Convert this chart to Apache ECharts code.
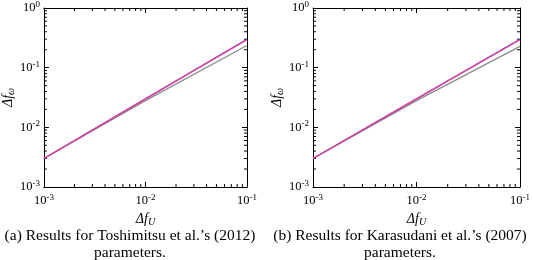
<!DOCTYPE html>
<html><head><meta charset="utf-8">
<script src="https://cdn.jsdelivr.net/npm/echarts@6/dist/echarts.min.js"></script>
<style>html,body{margin:0;padding:0;background:#fff}#c{width:533px;height:260px}</style>
</head><body><div id="c"></div><script>
// ---- data ----
const xRange=[0.001,0.1];
const yRange=[0.001,1];
const xTickExp=['-3','-2','-1'];
const yTickExp=['-3','-2','-1','0'];
const xVals=[0.001,0.01,0.1];
// (a) Toshimitsu et al. (2012)
const aBlue=[0.0030,0.030,0.300];
const aPink=[0.0030,0.030,0.293];
const aGray=[0.0030,0.028,0.235];
// (b) Karasudani et al. (2007)
const bBlue=[0.0030,0.030,0.300];
const bPink=[0.0030,0.030,0.293];
const bGray=[0.0030,0.028,0.228];
const captions=[["(a) Results for Toshimitsu et al.\u2019s (2012)","parameters."],["(b) Results for Karasudani et al.\u2019s (2007)","parameters."]];
const xName='\u0394f';const xSub='U';
const yName='\u0394f';const ySub='\u03c9';

const SERIF="'Liberation Serif','DejaVu Serif',serif";
const chart=echarts.init(document.getElementById('c'),null,{renderer:'canvas'});
const grids=[{left:41,top:8,width:206,height:179},{left:313,top:8,width:207,height:179}];
const rich={b:{fontSize:12.5,fontFamily:SERIF,color:'#000'},s:{fontSize:9,fontFamily:SERIF,color:'#000',padding:[0,0,7,0]},
 i:{fontSize:14,fontFamily:SERIF,fontStyle:'italic',color:'#000'},sub:{fontSize:10,fontFamily:SERIF,fontStyle:'italic',color:'#000',padding:[6,0,0,0]}};
function fmt(exps){return function(v){const e=Math.round(Math.log10(v));return '{b|10}{s|'+e+'}';};}
const lineStyle={color:'#000',width:1};
const xAxis=[],yAxis=[],series=[];
const minorX=[],minorY=[];
for(let d=-3;d<-1;d++)for(let k=2;k<=9;k++)minorX.push(k*Math.pow(10,d));
for(let d=-3;d<0;d++)for(let k=2;k<=9;k++)minorY.push(k*Math.pow(10,d));
const sets=[[aGray,aBlue,aPink],[bGray,bBlue,bPink]];
grids.forEach((g,gi)=>{
 xAxis.push({type:'log',logBase:10,gridIndex:gi,min:xRange[0],max:xRange[1],position:'bottom',
  axisLine:{show:true,lineStyle},axisTick:{inside:true,length:5,lineStyle},splitLine:{show:false},
  axisLabel:{formatter:fmt(xTickExp),rich,margin:6},
  name:'{i|'+xName+'}{sub|'+xSub+'}',nameLocation:'middle',nameGap:24,nameTextStyle:{rich}});
 xAxis.push({type:'log',logBase:10,gridIndex:gi,min:xRange[0],max:xRange[1],position:'top',
  axisLine:{show:true,lineStyle},axisTick:{inside:true,length:5,lineStyle},splitLine:{show:false},axisLabel:{show:false}});
 yAxis.push({type:'log',logBase:10,gridIndex:gi,min:yRange[0],max:yRange[1],position:'left',
  axisLine:{show:true,lineStyle},axisTick:{inside:true,length:5,lineStyle},splitLine:{show:false},
  axisLabel:{formatter:fmt(yTickExp),rich,margin:4},
  name:'{i|'+yName+'}{sub|'+ySub+'}',nameLocation:'middle',nameGap:27,nameRotate:90,nameTextStyle:{rich}});
 yAxis.push({type:'log',logBase:10,gridIndex:gi,min:yRange[0],max:yRange[1],position:'right',
  axisLine:{show:true,lineStyle},axisTick:{inside:true,length:5,lineStyle},splitLine:{show:false},axisLabel:{show:false}});
 const cols=['#8c8c8c','#3535cc','#ee4499'];
 sets[gi].forEach((arr,si)=>{
  series.push({type:'line',xAxisIndex:gi*2,yAxisIndex:gi*2,data:xVals.map((x,i)=>[x,arr[i]]),
   showSymbol:false,symbol:'none',lineStyle:{color:cols[si],width:1.3},z:3+si,animation:false});
 });
 const md=[];
 minorX.forEach(v=>md.push([v,yRange[0],0]));
 minorY.forEach(v=>md.push([xRange[0],v,1]));
 series.push({type:'custom',xAxisIndex:gi*2,yAxisIndex:gi*2,data:md,animation:false,silent:true,clip:false,
  renderItem:function(params,api){
   const v0=api.value(0),v1=api.value(1),o=api.value(2);
   let a,b;
   if(o===0){a=api.coord([v0,yRange[0]]);b=api.coord([v0,yRange[1]]);
    return {type:'group',children:[
     {type:'line',shape:{x1:a[0],y1:a[1],x2:a[0],y2:a[1]-3},style:{stroke:'#000',lineWidth:1}},
     {type:'line',shape:{x1:b[0],y1:b[1],x2:b[0],y2:b[1]+3},style:{stroke:'#000',lineWidth:1}}]};}
   a=api.coord([xRange[0],v1]);b=api.coord([xRange[1],v1]);
   return {type:'group',children:[
     {type:'line',shape:{x1:a[0],y1:a[1],x2:a[0]+3,y2:a[1]},style:{stroke:'#000',lineWidth:1}},
     {type:'line',shape:{x1:b[0],y1:b[1],x2:b[0]-3,y2:b[1]},style:{stroke:'#000',lineWidth:1}}]};
  }});
});
const graphic=[];
const capX=[130,400];
captions.forEach((c,i)=>{
 c.forEach((t,j)=>{
  graphic.push({type:'text',x:capX[i],y:236+j*17,style:{text:t,fill:'#000',font:'15.5px '+SERIF,textAlign:'center',textVerticalAlign:'middle'}});
 });
});
chart.setOption({animation:false,grid:grids,xAxis,yAxis,series,graphic});
</script></body></html>
